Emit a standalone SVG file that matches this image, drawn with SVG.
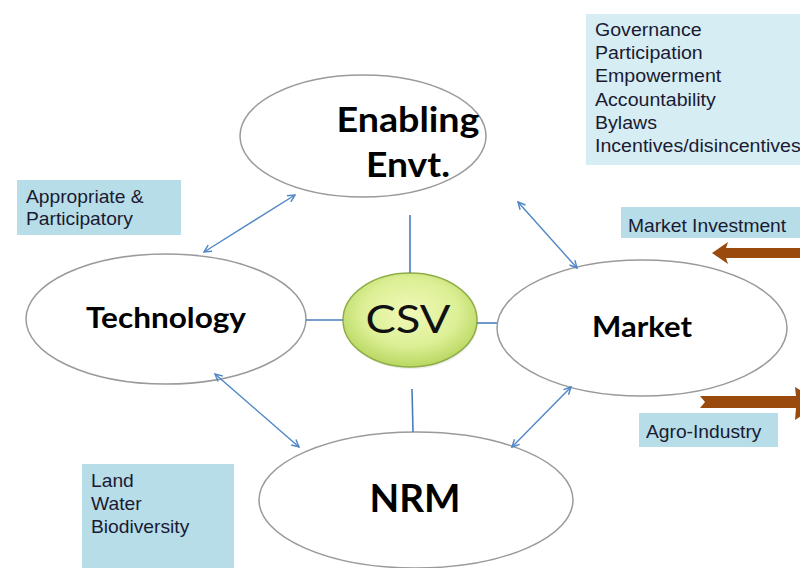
<svg xmlns="http://www.w3.org/2000/svg" width="800" height="568" viewBox="0 0 800 568">
  <style>
    .node { fill: #ffffff; stroke: #9a9a9a; stroke-width: 1.5; }
    .label { font-family: Lato, "Liberation Sans", sans-serif; font-weight: bold; fill: #000000; text-anchor: middle; }
    .box { fill: #b7dde8; }
    .boxtext { font-family: "Liberation Sans", Arial, sans-serif; font-size: 17.5px; fill: #1a1a33; }
    .link { stroke: #4a7ebb; stroke-width: 1.6; fill: none; }
    .dbl { stroke: #4f86c6; stroke-width: 1.4; fill: none; marker-start: url(#head); marker-end: url(#head); }
    .flow { fill: #994a0c; }
  </style>
  <defs>
    <marker id="head" viewBox="0 0 10 10" refX="9" refY="5" markerWidth="9" markerHeight="9" markerUnits="userSpaceOnUse" orient="auto-start-reverse">
      <path d="M1,1 L9,5 L1,9" fill="none" stroke="#4f86c6" stroke-width="1.6"/>
    </marker>
    <radialGradient id="csvFill" cx="50%" cy="42%" r="60%">
      <stop offset="0" stop-color="#f1f9b8"/>
      <stop offset="0.6" stop-color="#dcef95"/>
      <stop offset="1" stop-color="#b4d55c"/>
    </radialGradient>
  </defs>

  <!-- side notes -->
  <g id="note-governance">
    <rect x="586" y="14" width="214" height="151" fill="#d6edf3"/>
    <g transform="translate(595,0) scale(1.12,1)">
      <text class="boxtext" x="0" y="36">Governance</text>
      <text class="boxtext" x="0" y="59">Participation</text>
      <text class="boxtext" x="0" y="82">Empowerment</text>
      <text class="boxtext" x="0" y="106">Accountability</text>
      <text class="boxtext" x="0" y="129">Bylaws</text>
      <text class="boxtext" x="0" y="152">Incentives/disincentives</text>
    </g>
  </g>
  <g id="note-technology">
    <rect class="box" x="17" y="180" width="164" height="55"/>
    <g transform="translate(26,0) scale(1.1,1)">
      <text class="boxtext" x="0" y="203">Appropriate &amp;</text>
      <text class="boxtext" x="0" y="225">Participatory</text>
    </g>
  </g>
  <g id="note-nrm">
    <rect class="box" x="82" y="464" width="152" height="104"/>
    <g transform="translate(91,0) scale(1.1,1)">
      <text class="boxtext" x="0" y="487">Land</text>
      <text class="boxtext" x="0" y="510">Water</text>
      <text class="boxtext" x="0" y="533">Biodiversity</text>
    </g>
  </g>
  <g id="note-investment">
    <rect class="box" x="621" y="207" width="179" height="31"/>
    <g transform="translate(628,0) scale(1.1,1)">
      <text class="boxtext" x="0" y="232">Market Investment</text>
    </g>
  </g>
  <g id="note-agro">
    <rect class="box" x="639" y="413" width="139" height="34"/>
    <g transform="translate(646,0) scale(1.1,1)">
      <text class="boxtext" x="0" y="438">Agro-Industry</text>
    </g>
  </g>

  <!-- flows in and out of the market -->
  <g id="flow-investment">
    <polygon class="flow" points="712,253 728,242 726,248 800,248 800,258 726,258 728,264"/>
  </g>
  <g id="flow-agro">
    <polygon class="flow" points="700,396 796,396 795,387 822,403 795,420 796,408 700,408 705,402"/>
  </g>

  <!-- nodes -->
  <g id="node-enabling">
    <ellipse class="node" cx="363" cy="136" rx="123" ry="61"/>
    <text class="label" x="408" y="132" font-size="35" textLength="143" lengthAdjust="spacingAndGlyphs">Enabling</text>
    <text class="label" x="408" y="177" font-size="35" textLength="84" lengthAdjust="spacingAndGlyphs">Envt.</text>
  </g>
  <g id="node-technology">
    <ellipse class="node" cx="166" cy="319" rx="140" ry="65"/>
    <text class="label" x="166" y="328" font-size="28" textLength="160" lengthAdjust="spacingAndGlyphs">Technology</text>
  </g>
  <g id="node-market">
    <ellipse class="node" cx="642" cy="328" rx="145" ry="68"/>
    <text class="label" x="642" y="337" font-size="28" textLength="100" lengthAdjust="spacingAndGlyphs">Market</text>
  </g>
  <g id="node-nrm">
    <ellipse class="node" cx="416" cy="500" rx="157" ry="68"/>
    <text class="label" x="415" y="512" font-size="38" textLength="91" lengthAdjust="spacingAndGlyphs">NRM</text>
  </g>
  <g id="node-csv">
    <ellipse cx="411" cy="322" rx="67" ry="47" fill="#000" opacity="0.08"/>
    <ellipse cx="410" cy="320" rx="67" ry="47" fill="url(#csvFill)" stroke="#8fad45" stroke-width="1.5"/>
    <text x="408" y="333" font-family="Lato, 'Liberation Sans', sans-serif" font-size="39" fill="#111" text-anchor="middle" textLength="85" lengthAdjust="spacingAndGlyphs">CSV</text>
  </g>

  <!-- spokes from the centre and the two-way links between nodes -->
  <g id="connectors">
    <line class="link" x1="410" y1="215" x2="410" y2="273"/>
    <line class="link" x1="306" y1="320" x2="343" y2="320"/>
    <line class="link" x1="477" y1="323" x2="497" y2="323"/>
    <line class="link" x1="412" y1="389" x2="413" y2="432"/>
    <line class="dbl" x1="204" y1="252" x2="295" y2="195"/>
    <line class="dbl" x1="518" y1="202" x2="577" y2="268"/>
    <line class="dbl" x1="215" y1="374" x2="299" y2="447"/>
    <line class="dbl" x1="512" y1="447" x2="571" y2="387"/>
  </g>
</svg>
